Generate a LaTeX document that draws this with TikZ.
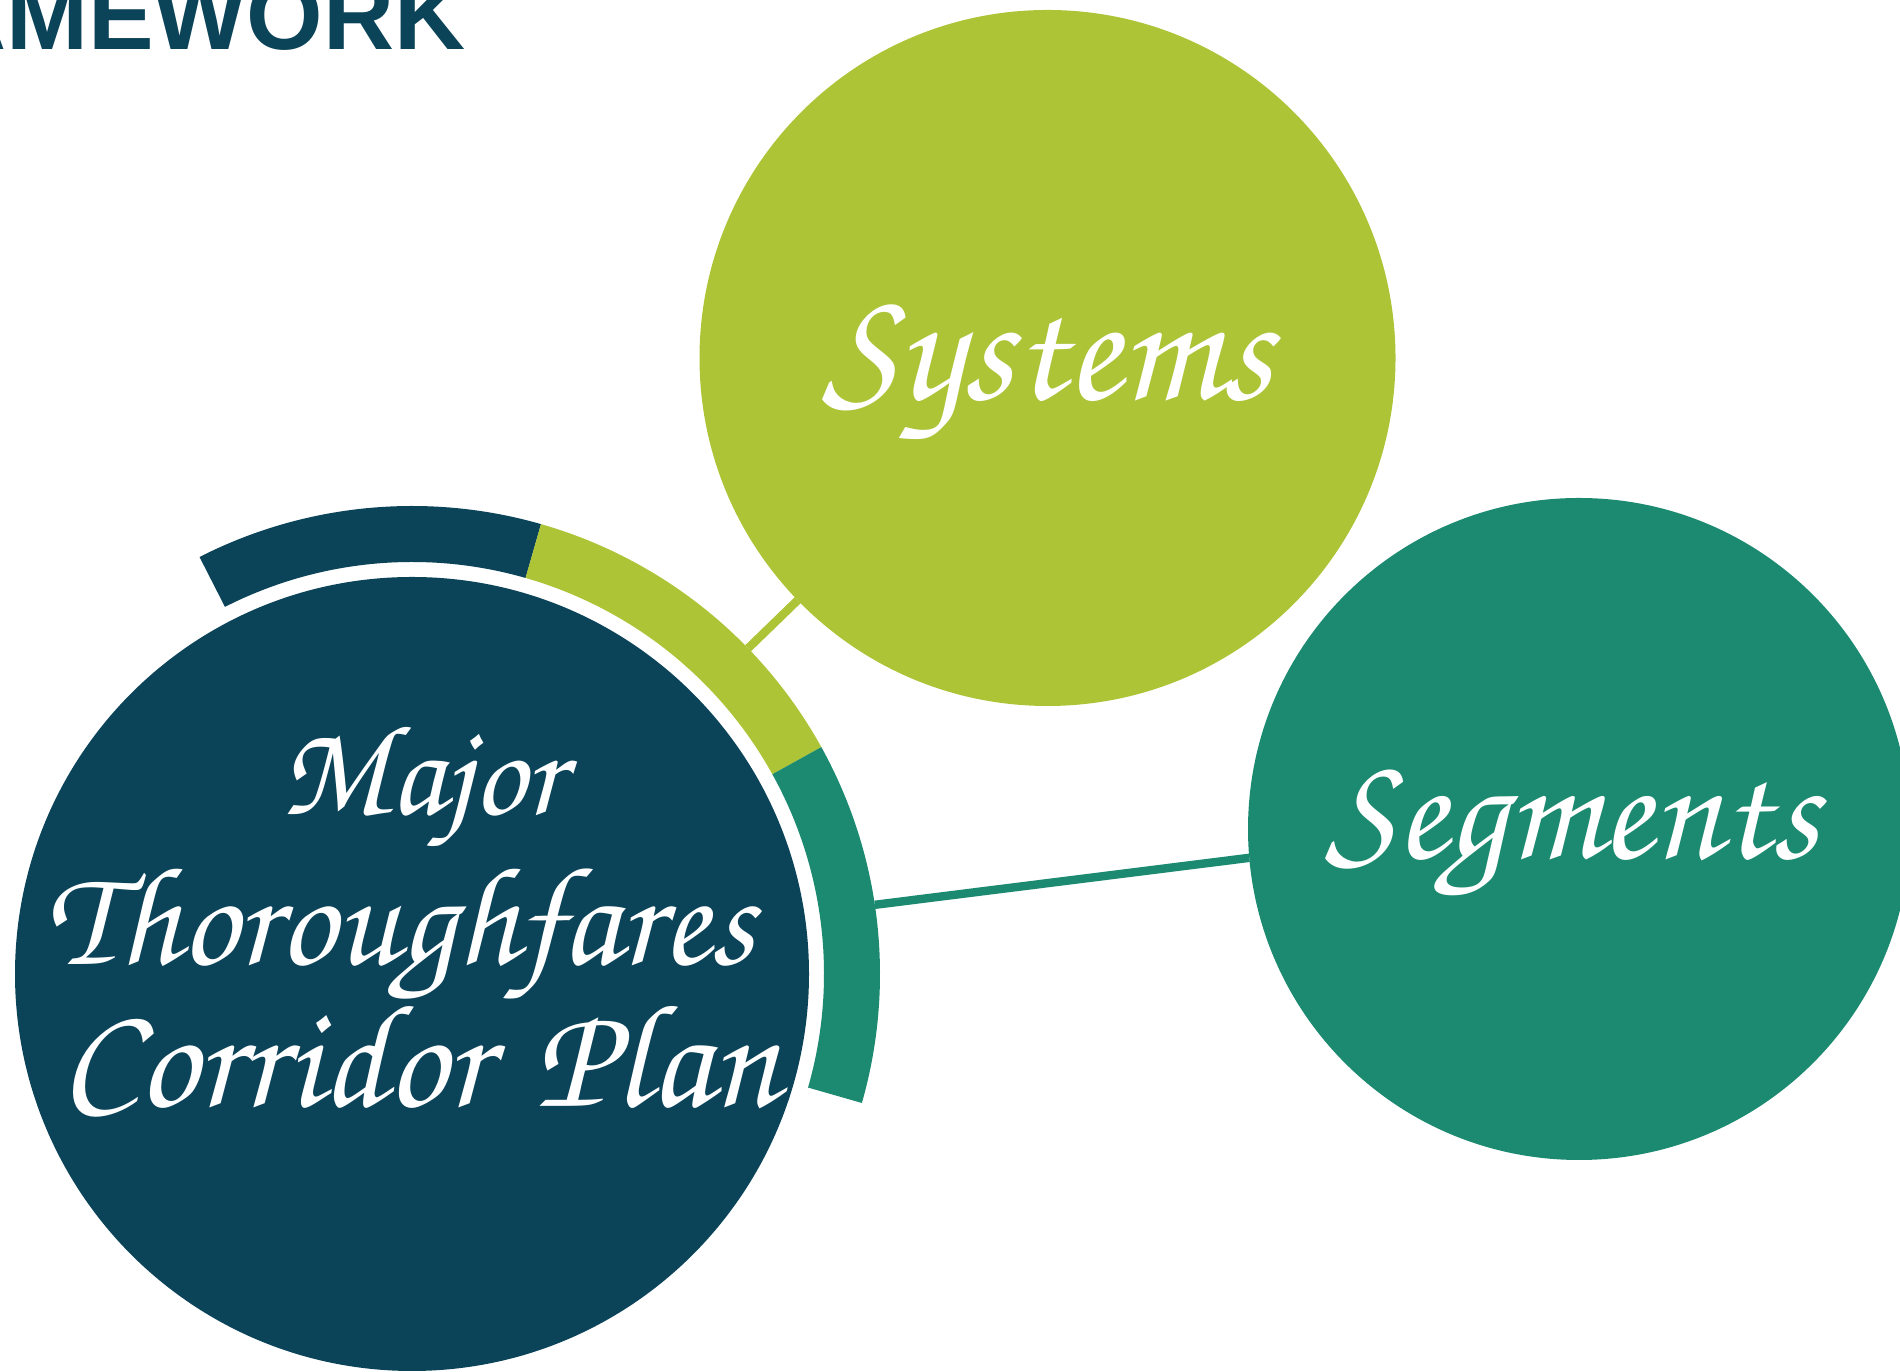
\documentclass[tikz,border=0pt]{standalone}
\usepackage{fontspec}
\setmainfont{Liberation Sans}
\definecolor{mtpnavy}{RGB}{11,67,89}
\definecolor{mtplime}{RGB}{173,196,55}
\definecolor{mtpteal}{RGB}{27,138,112}
\newcommand\brushfont[2]{\usefont{T1}{pzc}{mb}{it}\fontsize{#1}{#2}\selectfont}
\begin{document}
\begin{tikzpicture}[
    bubble/.style={circle,inner sep=0pt,outer sep=0pt},
    brushtext/.style={text=white,inner sep=0pt,anchor=base},
    link/.style={line width=2.4pt}]
    \useasboundingbox (0,0) rectangle (19,13.72);

    % Titulo
    \node[anchor=base east,inner sep=0pt,text=mtpnavy,
          font=\bfseries\fontsize{28}{28}\selectfont] (title) at (4.66,13.22) {AMEWORK};

    % Circulos
    \node[bubble,fill=mtpnavy,minimum size=7.94cm] (mtp) at (4.12,3.98) {};
    \node[bubble,fill=mtplime,minimum size=6.96cm] (sys) at (10.475,10.14) {};
    \node[bubble,fill=mtpteal,minimum size=6.62cm] (seg) at (15.79,5.43) {};

    % Anillo
    \foreach \a/\b/\c in {117/74/mtpnavy,74/29/mtplime,29/-16/mtpteal} {
            \fill[\c] ([shift={(\a:4.68)}]mtp.center) arc[start angle=\a,end angle=\b,radius=4.68]
                -- ([shift={(\b:4.12)}]mtp.center) arc[start angle=\b,end angle=\a,radius=4.12] -- cycle;
        }

    % Conectores
    \begin{scope}[link]
        \draw[mtplime] ([shift={(44.1:4.68)}]mtp.center) -- (sys);
        \draw[mtpteal] ([shift={(8.5:4.68)}]mtp.center) -- (seg.185.4);
    \end{scope}

    % Textos
    \node[brushtext,font=\brushfont{46}{46}] (systxt) at ([yshift=-0.42cm]sys.center) {Systems};
    \node[brushtext,font=\brushfont{43}{43}] (segtxt) at ([shift={(-0.07,-0.3)}]seg.center) {Segments};
    \node[brushtext,font=\brushfont{37}{37}] (major) at ([shift={(0.10,1.59)}]mtp.center) {Major};
    \node[brushtext,font=\brushfont{40}{40}] (thor) at ([shift={(-0.12,0.09)}]mtp.center) {Thoroughfares};
    \node[brushtext,font=\brushfont{42}{42}] (plan) at ([shift={(0.08,-1.33)}]mtp.center) {Corridor\hspace{0.3em}Plan};
\end{tikzpicture}
\end{document}
